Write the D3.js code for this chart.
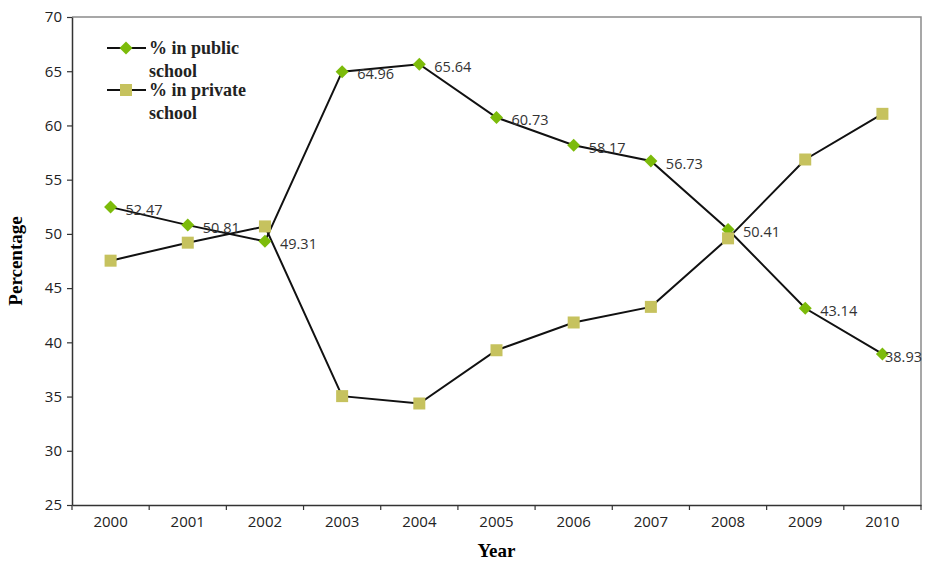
<!DOCTYPE html>
<html>
<head>
<meta charset="utf-8">
<script src="https://cdn.jsdelivr.net/npm/d3@7"></script>
<style>
    body { margin: 0; background: #fff; }
    svg { display: block; }
</style>
</head>
<body>
<svg id="chart" width="925" height="562"></svg>
<script>

const years = ["2000", "2001", "2002", "2003", "2004", "2005", "2006", "2007", "2008", "2009", "2010"]
const publicSchool = [52.47, 50.81, 49.31, 64.96, 65.64, 60.73, 58.17, 56.73, 50.41, 43.14, 38.93]
const privateSchool = [47.53, 49.19, 50.69, 35.04, 34.36, 39.27, 41.83, 43.27, 49.59, 56.86, 61.07]
const yTicks = [25, 30, 35, 40, 45, 50, 55, 60, 65, 70]

const svg = d3.select("#chart")
const plotLeft = 72, plotRight = 921, plotTop = 17, plotBottom = 505

const x = d3.scaleBand().domain(years).range([plotLeft, plotRight])
const y = d3.scaleLinear().domain([25, 70]).range([plotBottom, plotTop])
const cx = d => x(d) + x.bandwidth() / 2

const tickFont = "'Open Sans', 'DejaVu Sans', sans-serif"
const serif = "'Liberation Serif', 'Times New Roman', serif"

// frame: grey top/right, dark left/bottom
svg.append("path")
    .attr("d", `M${plotLeft},${plotTop}H${plotRight}V${plotBottom}`)
    .attr("fill", "none")
    .attr("stroke", "#8a8a8a")
    .attr("stroke-width", 1.5)

// y axis
const yAxis = svg.append("g")
    .attr("transform", `translate(${plotLeft},0)`)
    .call(d3.axisLeft(y).tickValues(yTicks).tickSize(5).tickSizeOuter(0).tickPadding(5))
yAxis.select(".domain").attr("stroke", "#333").attr("stroke-width", 1.5)
yAxis.selectAll(".tick line").attr("stroke", "#333").attr("stroke-width", 1.2)
yAxis.selectAll("text")
    .attr("font-family", tickFont)
    .attr("font-size", 15)
    .attr("fill", "#222")

// x axis with ticks at category boundaries
const xAxis = svg.append("g")
    .attr("transform", `translate(0,${plotBottom})`)
    .call(d3.axisBottom(x).tickSize(0).tickPadding(11))
xAxis.select(".domain").attr("stroke", "#333").attr("stroke-width", 1.5)
xAxis.selectAll("text")
    .attr("font-family", tickFont)
    .attr("font-size", 15)
    .attr("fill", "#222")
xAxis.selectAll(".edge")
    .data(years.map(d => x(d)).concat([plotRight]))
    .join("line")
    .attr("x1", d => d).attr("x2", d => d)
    .attr("y1", 0).attr("y2", 5)
    .attr("stroke", "#333")
    .attr("stroke-width", 1.2)

// axis titles
svg.append("text")
    .attr("transform", `translate(22,${(plotTop + plotBottom) / 2}) rotate(-90)`)
    .attr("text-anchor", "middle")
    .attr("font-family", serif)
    .attr("font-weight", "bold")
    .attr("font-size", 19)
    .text("Percentage")

svg.append("text")
    .attr("x", (plotLeft + plotRight) / 2)
    .attr("y", 557)
    .attr("text-anchor", "middle")
    .attr("font-family", serif)
    .attr("font-weight", "bold")
    .attr("font-size", 19)
    .text("Year")

const line = d3.line().x((d, i) => cx(years[i])).y(d => y(d))

svg.append("path").datum(publicSchool)
    .attr("d", line).attr("fill", "none").attr("stroke", "#111").attr("stroke-width", 2)
svg.append("path").datum(privateSchool)
    .attr("d", line).attr("fill", "none").attr("stroke", "#111").attr("stroke-width", 2)

const diamond = "M0,-6.5L6.5,0L0,6.5L-6.5,0Z"
const green = "#7cbb0a", olive = "#c6c25e"

svg.append("g").selectAll("path")
    .data(publicSchool)
    .join("path")
    .attr("d", diamond)
    .attr("transform", (d, i) => `translate(${cx(years[i])},${y(d)})`)
    .attr("fill", green)

svg.append("g").selectAll("rect")
    .data(privateSchool)
    .join("rect")
    .attr("x", (d, i) => cx(years[i]) - 6)
    .attr("y", d => y(d) - 6)
    .attr("width", 12).attr("height", 12)
    .attr("fill", olive)

// data labels for public series
svg.append("g").selectAll("text")
    .data(publicSchool)
    .join("text")
    .attr("font-family", tickFont)
    .attr("font-size", 14.5)
    .attr("fill", "#333")
    .attr("dy", "0.4em")
    .attr("y", d => y(d) + 2)
    .text(d => d.toFixed(2))
    .attr("x", function (d, i) {
        const w = this.getComputedTextLength()
        return Math.min(cx(years[i]) + 15, plotRight + 1 - w)
    })

// legend
const legend = svg.append("g")
const legendItems = [
    { lines: ["% in public", "school"], color: green, shape: "diamond", y: 48 },
    { lines: ["% in private", "school"], color: olive, shape: "square", y: 90 }
]
legendItems.forEach(item => {
    legend.append("line")
        .attr("x1", 107).attr("x2", 146)
        .attr("y1", item.y).attr("y2", item.y)
        .attr("stroke", "#111").attr("stroke-width", 2)
    if (item.shape === "diamond") {
        legend.append("path").attr("d", diamond)
            .attr("transform", `translate(126,${item.y})`)
            .attr("fill", item.color)
    } else {
        legend.append("rect")
            .attr("x", 120).attr("y", item.y - 6)
            .attr("width", 12).attr("height", 12)
            .attr("fill", item.color)
    }
    item.lines.forEach((t, k) => {
        legend.append("text")
            .attr("x", 149)
            .attr("y", item.y + 6 + k * 23)
            .attr("font-family", serif)
            .attr("font-weight", "bold")
            .attr("font-size", 18)
            .attr("fill", "#222")
            .text(t)
    })
})

</script>
</body>
</html>
